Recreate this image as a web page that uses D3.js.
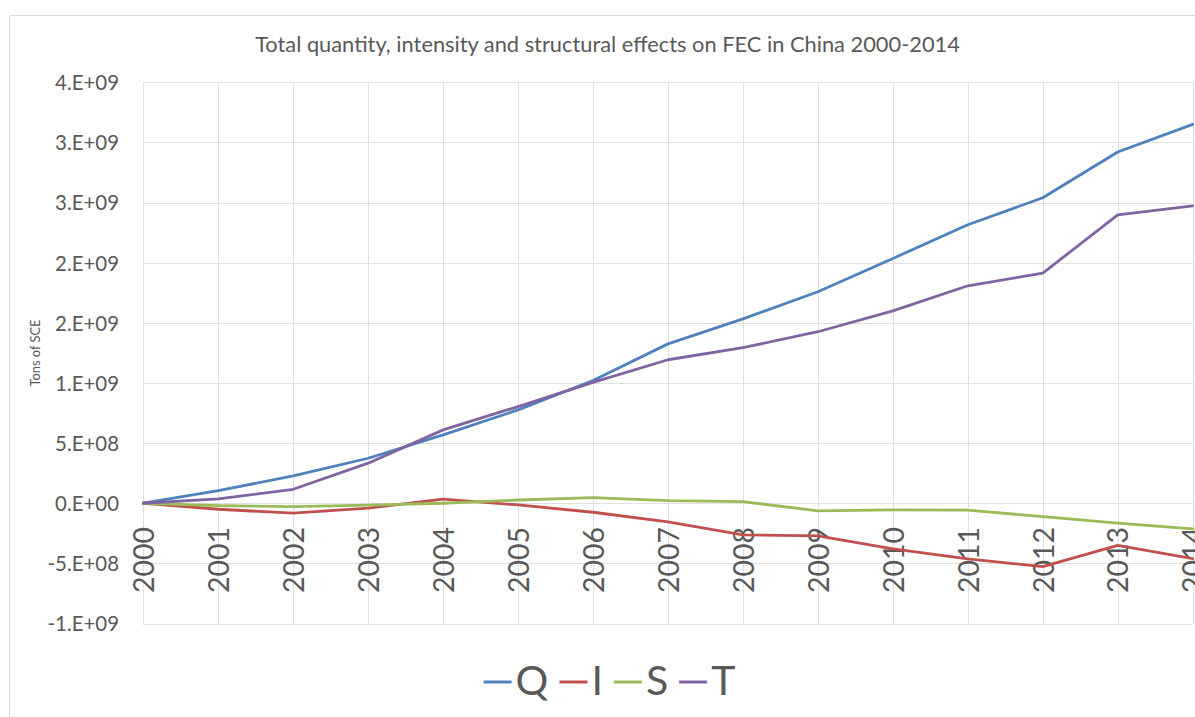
<!DOCTYPE html>
<html>
<head>
<meta charset="utf-8">
<script src="https://cdn.jsdelivr.net/npm/d3@7"></script>
<style>
  html, body { margin: 0; padding: 0; background: #ffffff; overflow: hidden; }
  svg { display: block; font-family: Lato, "Open Sans", sans-serif; }
</style>
</head>
<body>
<svg id="chart" width="1195" height="717"></svg>
<script>
// Decomposition of final energy consumption (tons of SCE), 2000-2014
const years = ["2000","2001","2002","2003","2004","2005","2006","2007","2008","2009","2010","2011","2012","2013","2014"];
const seriesNames = ["Q", "I", "S", "T"];
const qValues = [0, 1.05e8, 2.27e8, 3.74e8, 5.68e8, 7.76e8, 1.02e9, 1.325e9, 1.533e9, 1.758e9, 2.035e9, 2.316e9, 2.54e9, 2.92e9, 3.15e9];
const iValues = [0, -5.0e7, -8.3e7, -4.0e7, 3.5e7, -1.4e7, -7.5e7, -1.55e8, -2.63e8, -2.72e8, -3.8e8, -4.63e8, -5.27e8, -3.5e8, -4.6e8];
const sValues = [0, -2.0e7, -2.8e7, -1.6e7, 0, 2.7e7, 4.7e7, 2.2e7, 1.3e7, -6.4e7, -5.6e7, -5.8e7, -1.11e8, -1.66e8, -2.14e8];
const tValues = [0, 3.6e7, 1.16e8, 3.33e8, 6.1e8, 8.04e8, 1.005e9, 1.193e9, 1.293e9, 1.426e9, 1.6e9, 1.808e9, 1.913e9, 2.398e9, 2.473e9];
const yTickValues = [-1e9, -5e8, 0, 5e8, 1e9, 1.5e9, 2e9, 2.5e9, 3e9, 3.5e9];
const yTickLabels = ["-1.E+09", "-5.E+08", "0.E+00", "5.E+08", "1.E+09", "2.E+09", "2.E+09", "3.E+09", "3.E+09", "4.E+09"];
const chartTitle = "Total quantity, intensity and structural effects on FEC in China 2000-2014";
const yAxisTitle = "Tons of SCE";

const seriesValues = [qValues, iValues, sValues, tValues];
const seriesColors = ["#4F81BD", "#C0504D", "#9BBB59", "#8064A2"];
const textColor = "#595959";
const gridColor = "#e0e0e0";

const svg = d3.select("#chart");
const plot = { left: 143.3, right: 1192.7, top: 82.3, bottom: 623.5 };

const x = d3.scalePoint().domain(years).range([plot.left, plot.right]);
const y = d3.scaleLinear().domain([yTickValues[0], yTickValues[yTickValues.length - 1]]).range([plot.bottom, plot.top]);

// scale a text's font so its rendered width equals the target width
function fitFont(sel, target) {
  const w = sel.node().getComputedTextLength();
  const fs = parseFloat(sel.attr("font-size"));
  return fs * target / w;
}

// chart area frame (top and left edges)
svg.append("path")
  .attr("d", "M9.5,717 V15.5 H1195")
  .attr("fill", "none")
  .attr("stroke", "#d9d9d9")
  .attr("stroke-width", 1);

// horizontal gridlines
const yGrid = svg.append("g")
  .attr("transform", `translate(${plot.left},0)`)
  .call(d3.axisLeft(y).tickValues(yTickValues).tickSize(-(plot.right - plot.left)).tickFormat(""));
yGrid.select(".domain").remove();
yGrid.selectAll("line").attr("stroke", gridColor).attr("shape-rendering", "crispEdges");

// vertical gridlines
const xGrid = svg.append("g")
  .attr("transform", `translate(0,${plot.bottom})`)
  .call(d3.axisBottom(x).tickSize(-(plot.bottom - plot.top)).tickFormat(""));
xGrid.select(".domain").remove();
xGrid.selectAll("line").attr("stroke", gridColor).attr("shape-rendering", "crispEdges");

// value axis labels
const yAxis = svg.append("g")
  .attr("transform", `translate(119,0)`)
  .call(d3.axisLeft(y).tickValues(yTickValues).tickSize(0).tickPadding(0)
    .tickFormat((d, i) => yTickLabels[i]));
yAxis.select(".domain").remove();
const probeY = svg.append("text").attr("font-size", 24).text("4.E+09");
const ySize = fitFont(probeY, 64);
probeY.remove();
yAxis.selectAll("text")
  .attr("font-size", ySize)
  .attr("font-family", "Lato, 'Open Sans', sans-serif")
  .attr("fill", textColor)
  .attr("dy", "0.36em");

// category axis labels along the zero line, rotated
const xAxis = svg.append("g")
  .attr("transform", `translate(0,${y(0)})`)
  .call(d3.axisBottom(x).tickSize(0));
xAxis.select(".domain").remove();
const probeX = svg.append("text").attr("font-size", 30).text("2000");
const xSize = fitFont(probeX, 66);
probeX.remove();
xAxis.selectAll("text")
  .attr("font-size", xSize)
  .attr("font-family", "Lato, 'Open Sans', sans-serif")
  .attr("fill", textColor)
  .attr("transform", "rotate(-90)")
  .attr("text-anchor", "end")
  .attr("x", -(527 - y(0)))
  .attr("y", 0)
  .attr("dy", "0.36em");

// series lines
const line = d3.line()
  .x((d, i) => x(years[i]))
  .y(d => y(d));
svg.append("g")
  .selectAll("path")
  .data(seriesValues)
  .join("path")
  .attr("d", d => line(d))
  .attr("fill", "none")
  .attr("stroke", (d, i) => seriesColors[i])
  .attr("stroke-width", 2.8)
  .attr("stroke-linejoin", "round")
  .attr("stroke-linecap", "round");

// title
const title = svg.append("text")
  .attr("font-size", 21)
  .attr("fill", textColor)
  .attr("text-anchor", "middle")
  .attr("x", 607.5)
  .attr("y", 52)
  .text(chartTitle);
title.attr("font-size", fitFont(title, 705));

// value axis title
const yTitle = svg.append("text")
  .attr("font-size", 13)
  .attr("fill", textColor)
  .attr("text-anchor", "middle")
  .attr("transform", "translate(35,353) rotate(-90)")
  .attr("dy", "0.35em")
  .text(yAxisTitle);
yTitle.attr("font-size", fitFont(yTitle, 67));

// legend
const legend = svg.append("g");
const legendFont = 41;
let cursor = 0;
seriesNames.forEach((name, i) => {
  const item = legend.append("g").attr("transform", `translate(${cursor},0)`);
  item.append("line")
    .attr("x1", 0).attr("x2", 28)
    .attr("y1", 0).attr("y2", 0)
    .attr("stroke", seriesColors[i])
    .attr("stroke-width", 3);
  const t = item.append("text")
    .attr("x", 32)
    .attr("y", 13)
    .attr("font-size", legendFont)
    .attr("fill", textColor)
    .text(name);
  cursor += 32 + t.node().getComputedTextLength() + 11;
});
cursor -= 11;
legend.attr("transform", `translate(${609.5 - cursor / 2},682)`);
</script>
</body>
</html>
